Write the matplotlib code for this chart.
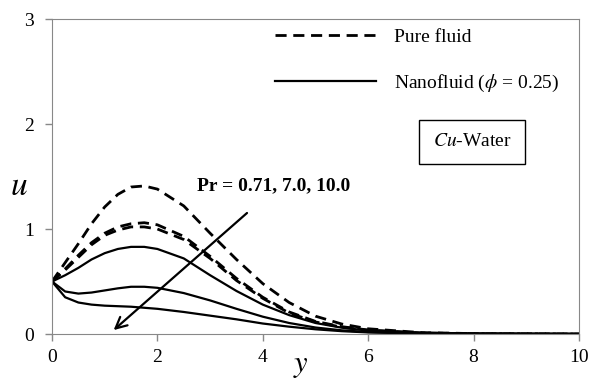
import matplotlib
matplotlib.use("Agg")
import matplotlib.pyplot as plt
from matplotlib.lines import Line2D

y_pts = [0, 0.25, 0.5, 0.75, 1, 1.25, 1.5, 1.75, 2, 2.5, 3, 3.5, 4, 4.5, 5, 5.5, 6, 7, 8, 10]

# pure fluid, Pr = 0.71, 7.0, 10.0
u_pure_071 = [0.5, 0.68, 0.86, 1.05, 1.21, 1.33, 1.40, 1.41, 1.38, 1.22, 0.96, 0.71, 0.48, 0.30, 0.17, 0.095, 0.05, 0.014, 0.004, 0]
u_pure_70 = [0.5, 0.62, 0.75, 0.87, 0.96, 1.02, 1.05, 1.06, 1.04, 0.93, 0.74, 0.53, 0.35, 0.21, 0.12, 0.07, 0.038, 0.01, 0.003, 0]
u_pure_100 = [0.5, 0.61, 0.73, 0.85, 0.94, 0.99, 1.02, 1.02, 1.00, 0.90, 0.72, 0.51, 0.34, 0.20, 0.115, 0.065, 0.035, 0.01, 0.003, 0]

# nanofluid (phi = 0.25), Pr = 0.71, 7.0, 10.0
u_nano_071 = [0.5, 0.56, 0.63, 0.71, 0.77, 0.81, 0.83, 0.83, 0.81, 0.72, 0.56, 0.41, 0.28, 0.18, 0.105, 0.06, 0.033, 0.009, 0.002, 0]
u_nano_70 = [0.5, 0.405, 0.385, 0.395, 0.415, 0.435, 0.45, 0.45, 0.44, 0.39, 0.32, 0.24, 0.165, 0.105, 0.062, 0.035, 0.019, 0.005, 0.001, 0]
u_nano_100 = [0.5, 0.35, 0.30, 0.28, 0.27, 0.265, 0.26, 0.25, 0.24, 0.21, 0.175, 0.14, 0.10, 0.07, 0.045, 0.027, 0.015, 0.004, 0.001, 0]

x_ticks = [0, 2, 4, 6, 8, 10]
y_ticks = [0, 1, 2, 3]

serif = ["Liberation Serif", "DejaVu Serif"]
plt.rcParams['font.family'] = serif
plt.rcParams['mathtext.fontset'] = 'stix'

fig = plt.figure(figsize=(5.89, 3.8), dpi=100)
ax = fig.add_axes([0.0883, 0.121, 0.8947, 0.829])

dash = (0, (4, 2.4))
for u in (u_pure_071, u_pure_70, u_pure_100):
    ax.plot(y_pts, u, color='black', lw=2.0, linestyle=dash)
for u in (u_nano_071, u_nano_70, u_nano_100):
    ax.plot(y_pts, u, color='black', lw=1.6)

ax.set_xlim(0, 10)
ax.set_ylim(0, 3)
ax.set_xticks(x_ticks)
ax.set_yticks(y_ticks)
ax.tick_params(labelsize=14, color='#888888', length=5, width=1)
ax.tick_params(axis='x', pad=6)
ax.tick_params(axis='y', pad=8)
for s in ax.spines.values():
    s.set_color('#888888')

ax.set_xlabel('$y$', fontsize=22)
ax.set_ylabel('$u$', fontsize=24, rotation=0)
ax.yaxis.set_label_coords(-0.062, 0.42)
ax.xaxis.set_label_coords(0.472, -0.055)
ax.xaxis.label.set_va('top')

# arrow for increasing Pr
ax.annotate('', xy=(1.13, 0.02), xytext=(3.74, 1.17),
            arrowprops=dict(arrowstyle='->', color='black', lw=1.6,
                            mutation_scale=20))
ax.text(2.76, 1.41, 'Pr = 0.71, 7.0, 10.0', fontsize=14, fontweight='bold',
        va='center', ha='left')

handles = [Line2D([], [], color='black', lw=2.0, linestyle=dash),
           Line2D([], [], color='black', lw=1.6)]
ax.legend(handles, ['Pure fluid', r'Nanofluid ($\phi$ = 0.25)'],
          loc='upper left', bbox_to_anchor=(0.39, 1.025), frameon=False,
          fontsize=14, handlelength=5.2, handletextpad=0.9, labelspacing=1.35)

ax.text(0.797, 0.61, '$Cu$-Water', transform=ax.transAxes, fontsize=14,
        ha='center', va='center',
        bbox=dict(boxstyle='square,pad=0.7', fc='white', ec='black', lw=1))

fig.savefig('out.png', dpi=100)
